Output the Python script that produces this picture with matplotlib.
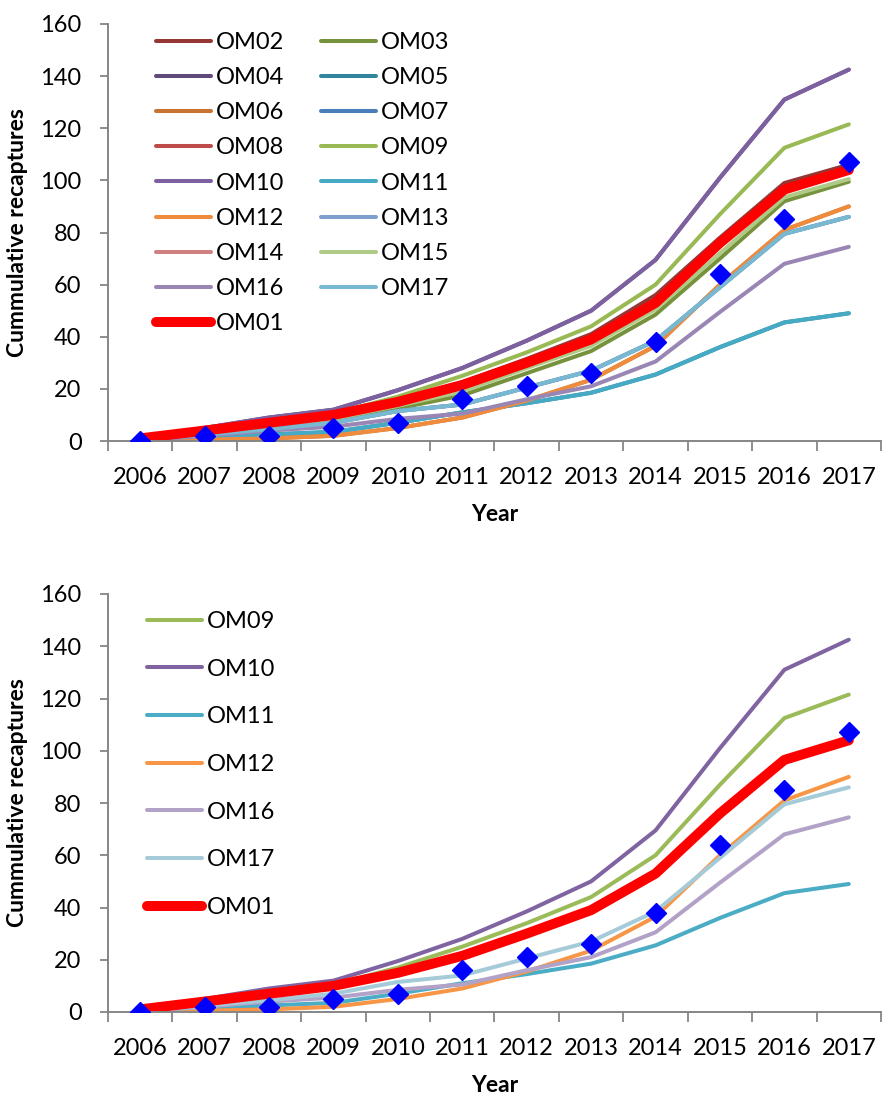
import matplotlib
matplotlib.use("Agg")
import matplotlib.pyplot as plt
import numpy as np

plt.rcParams['font.family'] = ['Lato', 'DejaVu Sans']

years = ['2006', '2007', '2008', '2009', '2010', '2011',
         '2012', '2013', '2014', '2015', '2016', '2017']

# cumulative recaptures
om01 = [1, 4, 7, 10, 15, 21.5, 30, 39, 53, 76, 96.5, 104]
om02 = [1, 4.5, 7.5, 10.5, 15.5, 22.5, 31.5, 41, 56, 78, 99, 106]
om03 = [0.5, 3, 5, 7.5, 12.5, 17.5, 26, 34.5, 48.5, 70, 92, 99.5]
om04 = [1, 5, 9, 12, 19.5, 28, 38.5, 50, 69.5, 101, 131, 142.5]
om05 = [0, 1.5, 2.5, 3.5, 7, 11, 14.5, 18.5, 25.5, 36, 45.5, 49]
om06 = [0, 0.5, 1, 2, 5, 9, 15.5, 23.5, 36.5, 60, 81, 90]
om07 = [0, 2.5, 4.5, 7, 11.5, 14, 20.5, 27, 38.5, 59, 79.5, 86]
om08 = [1, 4, 7, 10, 15, 21.5, 30, 39, 53, 76, 96.5, 104]
om09 = [1, 4.5, 8, 10.5, 17, 25, 34, 44, 60, 87, 112.5, 121.5]
om10 = [1, 5, 9, 12, 19.5, 28, 38.5, 50, 69.5, 101, 131, 142.5]
om11 = [0, 1.5, 2.5, 3.5, 7, 11, 14.5, 18.5, 25.5, 36, 45.5, 49]
om12 = [0, 0.5, 1, 2, 5, 9, 15.5, 23.5, 36.5, 60, 81, 90]
om13 = [0, 2.5, 4.5, 7, 11.5, 14, 20.5, 27, 38.5, 59, 79.5, 86]
om14 = [1, 4, 7, 10, 15, 21.5, 30, 39, 53, 76, 96.5, 104]
om15 = [0.5, 3.5, 6, 8.5, 13.5, 19, 28, 36.5, 50.5, 72, 93.5, 100.5]
om16 = [0, 2, 4, 5.5, 8.5, 10.5, 16, 21, 30.5, 49.5, 68, 74.5]
om17 = [0, 2.5, 4.5, 7, 11.5, 14, 20.5, 27, 38.5, 59, 79.5, 86]
observed = [0, 2, 2, 5, 7, 16, 21, 26, 38, 64, 85, 107]

top_series = [
    ('OM02', om02, '#953735'), ('OM03', om03, '#76923C'),
    ('OM04', om04, '#604A7B'), ('OM05', om05, '#31859C'),
    ('OM06', om06, '#C8732F'), ('OM07', om07, '#4A7EBB'),
    ('OM08', om08, '#BE4B48'), ('OM09', om09, '#98B954'),
    ('OM10', om10, '#7D60A0'), ('OM11', om11, '#46AAC5'),
    ('OM12', om12, '#EE8B3C'), ('OM13', om13, '#7F9FCF'),
    ('OM14', om14, '#D08080'), ('OM15', om15, '#AFCA86'),
    ('OM16', om16, '#9A86B5'), ('OM17', om17, '#78B8D0'),
]
bottom_series = [
    ('OM09', om09, '#9BBB59'), ('OM10', om10, '#8064A2'),
    ('OM11', om11, '#4BACC6'), ('OM12', om12, '#F79646'),
    ('OM16', om16, '#B3A2C7'), ('OM17', om17, '#A5CBD8'),
]

FS = 17
GREY = '#868686'


def draw_panel(ax, series):
    x = np.arange(len(years))
    for name, vals, col in series:
        ax.plot(x, vals, color=col, lw=2.9, label=name,
                solid_capstyle='round', solid_joinstyle='round')
    ax.plot(x, om01, color='#FF0000', lw=7.2, label='OM01',
            solid_capstyle='round', solid_joinstyle='round')
    ax.plot(x, observed, ls='none', marker='D', ms=10,
            color='#0000FF', label='_nolegend_', zorder=5)

    ax.set_xlim(-0.5, len(years) - 0.5)
    ax.set_ylim(0, 160)
    ax.set_yticks(range(0, 161, 20))
    ax.set_xticks(x)
    ax.set_xticklabels(years)
    ax.set_xticks(np.arange(-0.5, len(years), 1), minor=True)
    ax.tick_params(axis='x', which='major', length=0, pad=19, labelsize=FS)
    ax.tick_params(axis='x', which='minor', length=7, width=1.3,
                   color=GREY, direction='out')
    ax.tick_params(axis='y', length=6, width=1.3, color=GREY,
                   pad=13, labelsize=FS)
    for s in ['top', 'right']:
        ax.spines[s].set_visible(False)
    for s in ['left', 'bottom']:
        ax.spines[s].set_color(GREY)
        ax.spines[s].set_linewidth(1.4)
    ax.set_ylabel('Cummulative recaptures', fontsize=16.5, fontweight='bold')
    ax.set_xlabel('Year', fontsize=16.5, fontweight='bold', va='top')
    ax.yaxis.set_label_coords(-0.103, 0.5)
    ax.xaxis.set_label_coords(0.5, -0.15)


fig = plt.figure(figsize=(8.82, 10.97), dpi=100)
ax1 = fig.add_axes([108 / 882, 1 - 441 / 1097, 773 / 882, 417 / 1097])
ax2 = fig.add_axes([108 / 882, 1 - 1012 / 1097, 773 / 882, 418 / 1097])

draw_panel(ax1, top_series)
draw_panel(ax2, bottom_series)

# legend is filled row by row in the reference
h, l = ax1.get_legend_handles_labels()
order = list(range(0, len(h), 2)) + list(range(1, len(h), 2))
ax1.legend([h[i] for i in order], [l[i] for i in order],
           ncol=2, loc='upper left', frameon=False, fontsize=FS,
           bbox_to_anchor=(156 / 882, 1 - 32 / 1097),
           bbox_transform=fig.transFigure, borderaxespad=0, borderpad=0,
           handlelength=2.33, handletextpad=0.2, columnspacing=1.55,
           labelspacing=0.6)
ax2.legend(ncol=1, loc='upper left', frameon=False, fontsize=FS,
           bbox_to_anchor=(147 / 882, 1 - 611 / 1097),
           bbox_transform=fig.transFigure, borderaxespad=0, borderpad=0,
           handlelength=2.33, handletextpad=0.2, labelspacing=1.13)

fig.savefig('out.png', dpi=100)
